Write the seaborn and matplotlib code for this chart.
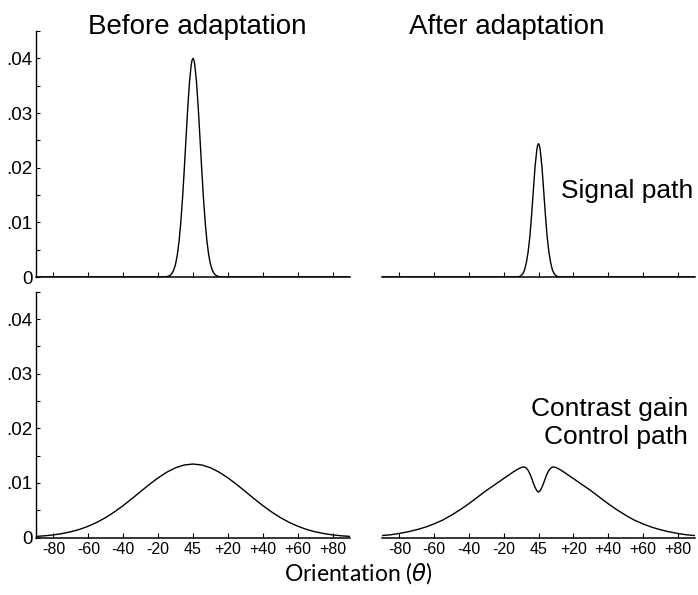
import matplotlib
matplotlib.use("Agg")
import matplotlib.pyplot as plt
import seaborn as sns
import pandas as pd

# ---------------- data (orientation offset from 45 deg, response) ----------------
signal_before_x = [-90, -20, -16, -14, -13, -12, -11, -10, -9, -8, -7, -6, -5, -4, -3, -2, -1, -0.5,
                   0, 0.5, 1, 2, 3, 4, 5, 6, 7, 8, 9, 10, 11, 12, 13, 14, 16, 20, 90]
signal_before_y = [0.0, 0.0, 0.00003, 0.00015, 0.00033, 0.00068, 0.00130, 0.00235, 0.00403, 0.00652,
                   0.00997, 0.01442, 0.01969, 0.02542, 0.03099, 0.03571, 0.03889, 0.03972,
                   0.04000, 0.03972, 0.03889, 0.03571, 0.03099, 0.02542, 0.01969, 0.01442, 0.00997,
                   0.00652, 0.00403, 0.00235, 0.00130, 0.00068, 0.00033, 0.00015, 0.00003, 0.0, 0.0]

signal_after_x = [-90, -16, -13, -12, -11, -10, -9, -8, -7, -6, -5, -4, -3, -2, -1, -0.5,
                  0, 0.5, 1, 2, 3, 4, 5, 6, 7, 8, 9, 10, 11, 12, 13, 16, 90]
signal_after_y = [0.0, 0.0, 0.00001, 0.00003, 0.0001, 0.00025, 0.0006, 0.0013, 0.0026, 0.0045,
                  0.0073, 0.0112, 0.0157, 0.0201, 0.0232, 0.0241,
                  0.0244, 0.0241, 0.0232, 0.0201, 0.0157, 0.0112, 0.0073, 0.0045, 0.0026,
                  0.0013, 0.0006, 0.00025, 0.0001, 0.00003, 0.00001, 0.0, 0.0]

control_before_x = [-90, -85, -80, -75, -70, -65, -60, -55, -50, -45, -40, -35, -30, -25, -20, -15, -10, -5,
                    0, 5, 10, 15, 20, 25, 30, 35, 40, 45, 50, 55, 60, 65, 70, 75, 80, 85, 90]
control_before_y = [0.00020, 0.00031, 0.00048, 0.00072, 0.00105, 0.00149, 0.00207, 0.00279, 0.00366,
                    0.00469, 0.00585, 0.00711, 0.00842, 0.00972, 0.01092, 0.01196, 0.01277, 0.01328,
                    0.01345, 0.01328, 0.01277, 0.01196, 0.01092, 0.00972, 0.00842, 0.00711, 0.00585,
                    0.00469, 0.00366, 0.00279, 0.00207, 0.00149, 0.00105, 0.00072, 0.00048, 0.00031,
                    0.00020]

control_after_x = [-90, -85, -80, -75, -70, -65, -60, -55, -50, -45, -40, -35, -30, -25, -20, -17, -15,
                   -13, -12, -11, -10, -9, -8, -7, -6, -5, -4, -3, -2, -1,
                   0, 1, 2, 3, 4, 5, 6, 7, 8, 9, 10, 11, 12, 13, 15, 17, 20, 25, 30, 35, 40, 45, 50,
                   55, 60, 65, 70, 75, 80, 85, 90]
control_after_y = [0.00035, 0.0005, 0.00075, 0.00105, 0.00143, 0.0019, 0.0025, 0.0032, 0.0041, 0.0051,
                   0.0062, 0.0074, 0.0086, 0.0097, 0.0108, 0.01145, 0.0119,
                   0.0123, 0.0125, 0.01265, 0.0128, 0.0129, 0.0129, 0.0127, 0.0123, 0.0117, 0.0109,
                   0.0100, 0.0092, 0.0086,
                   0.0083, 0.0086, 0.0092, 0.0100, 0.0109, 0.0117, 0.0123, 0.0127, 0.0129, 0.0129,
                   0.0128, 0.01265, 0.0125, 0.0123, 0.0119, 0.01145, 0.0108, 0.0097, 0.0086, 0.0074,
                   0.0062, 0.0051, 0.0041, 0.0032, 0.0025, 0.0019, 0.00143, 0.00105, 0.00075, 0.0005,
                   0.00035]

x_ticks = [-80, -60, -40, -20, 0, 20, 40, 60, 80]
x_tick_labels = ["-80", "-60", "-40", "-20", "45", "+20", "+40", "+60", "+80"]
y_ticks = [0.0, 0.01, 0.02, 0.03, 0.04]
y_tick_labels = ["0", ".01", ".02", ".03", ".04"]
y_minor_ticks = [0.005, 0.015, 0.025, 0.035, 0.045]

column_titles = ["Before adaptation", "After adaptation"]
row_labels = ["Signal path", "Contrast gain\nControl path"]
x_label = "Orientation ($\\theta$)"

# ---------------- style ----------------
sns.set_style("white")
plt.rcParams["font.family"] = ["Liberation Sans", "DejaVu Sans"]
plt.rcParams["mathtext.fontset"] = "dejavusans"
plt.rcParams["text.color"] = "black"
plt.rcParams["xtick.color"] = "black"
plt.rcParams["ytick.color"] = "black"

W, H = 698, 595
fig = plt.figure(figsize=(W / 100, H / 100), dpi=100)


def px_axes(x0, x1, ytop, ybot):
    return fig.add_axes([x0 / W, 1 - ybot / H, (x1 - x0) / W, (ybot - ytop) / H])


ax_tl = px_axes(36, 350, 31, 277)
ax_tr = px_axes(382, 695, 31, 277)
ax_bl = px_axes(36, 350, 291.7, 537.5)
ax_br = px_axes(382, 695, 291.7, 537.5)

panels = [
    (ax_tl, signal_before_x, signal_before_y, True, False),
    (ax_tr, signal_after_x, signal_after_y, False, False),
    (ax_bl, control_before_x, control_before_y, True, True),
    (ax_br, control_after_x, control_after_y, False, True),
]

for ax, xs, ys, show_y, show_xlab in panels:
    df = pd.DataFrame({"offset": xs, "response": ys})
    sns.lineplot(data=df, x="offset", y="response", ax=ax, color="black",
                 linewidth=1.0, estimator=None, sort=False)
    ax.set_xlim(-90, 90)
    ax.set_ylim(0, 0.045)
    ax.set_xlabel("")
    ax.set_ylabel("")
    ax.set_facecolor("none")
    for s in ["top", "right"]:
        ax.spines[s].set_visible(False)
    ax.spines["bottom"].set_color("black")
    ax.spines["bottom"].set_linewidth(1.1)
    ax.set_xticks(x_ticks)
    if show_xlab:
        ax.set_xticklabels(x_tick_labels, fontsize=11.5)
    else:
        ax.set_xticklabels([])
    ax.tick_params(axis="x", which="both", bottom=True, direction="in", length=3.5, width=0.8,
                   color="black", pad=3, labelcolor="black")
    if show_y:
        ax.spines["left"].set_color("black")
        ax.spines["left"].set_linewidth(1.0)
        ax.set_yticks(y_ticks)
        ax.set_yticklabels(y_tick_labels, fontsize=13.5)
        ax.set_yticks(y_minor_ticks, minor=True)
        ax.tick_params(axis="y", which="both", left=True, direction="in", length=3, width=0.8,
                       color="black", pad=2.5, labelcolor="black")
    else:
        ax.spines["left"].set_visible(False)
        ax.set_yticks([])

# titles and labels
fig.text(197 / W, 1 - 33.5 / H, column_titles[0], ha="center", va="baseline", fontsize=20,
         color="black")
fig.text(506.5 / W, 1 - 33.5 / H, column_titles[1], ha="center", va="baseline", fontsize=20,
         color="black")
fig.text(693 / W, 1 - 198 / H, row_labels[0], ha="right", va="baseline", fontsize=19,
         color="black")
lines = row_labels[1].split("\n")
fig.text(688 / W, 1 - 416 / H, lines[0], ha="right", va="baseline", fontsize=19, color="black")
fig.text(688 / W, 1 - 444 / H, lines[1], ha="right", va="baseline", fontsize=19, color="black")
fig.text(358 / W, 1 - 573 / H, x_label, ha="center", va="center", fontsize=16.5,
         family=["Lato", "DejaVu Sans"], color="black")

fig.savefig("out.png", dpi=100)
